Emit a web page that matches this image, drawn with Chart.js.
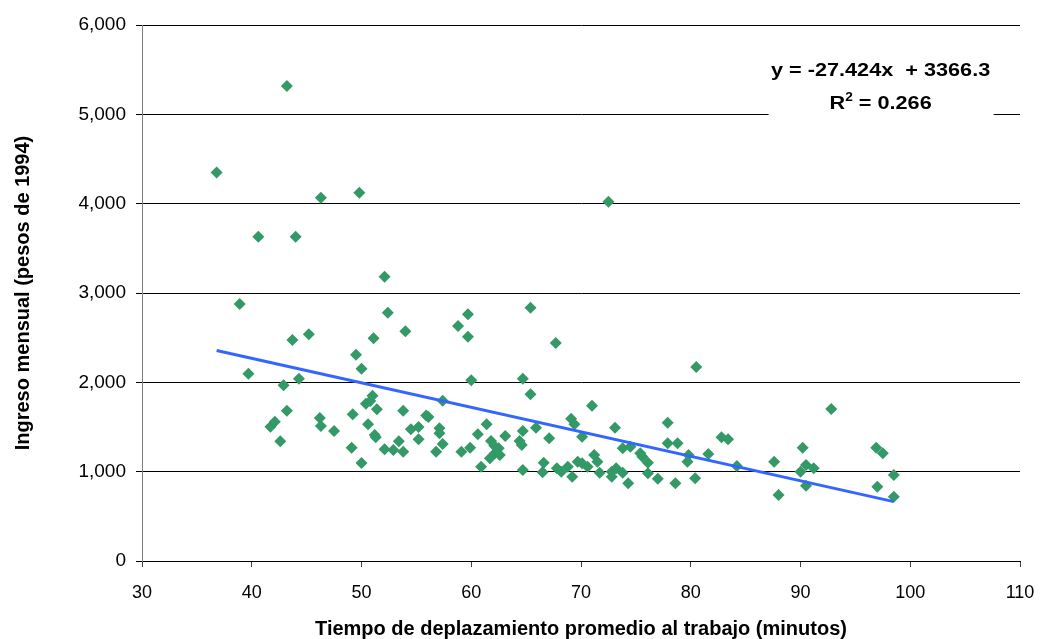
<!DOCTYPE html>
<html>
<head>
<meta charset="utf-8">
<script src="https://cdn.jsdelivr.net/npm/chart.js@4/dist/chart.umd.min.js"></script>
<style>
  html, body { margin: 0; padding: 0; background: #ffffff; }
  canvas { display: block; }
</style>
</head>
<body>
<canvas id="chart" width="1040" height="639"></canvas>
<script>
// Average commute time (minutes) per zone
const commuteMinutes = [
  36.8, 38.9, 39.7, 40.6, 41.7, 42.1, 42.6, 42.9, 43.2, 43.2,
  43.7, 44.0, 44.3, 45.2, 46.2, 46.3, 46.3, 47.5, 49.1, 49.2,
  49.5, 49.8, 50.0, 50.0, 50.4, 50.6, 50.8, 51.0, 51.1, 51.2,
  51.3, 51.4, 52.1, 52.1, 52.4, 52.9, 53.4, 53.8, 53.8, 54.0,
  54.5, 55.2, 55.2, 55.9, 56.1, 56.8, 57.1, 57.1, 57.4, 57.4,
  58.8, 59.1, 59.7, 59.7, 59.9, 60.0, 60.6, 60.9, 61.4, 61.7,
  61.8, 62.1, 62.2, 62.5, 62.6, 63.1, 64.4, 64.6, 64.7, 64.7,
  64.7, 65.4, 65.4, 65.9, 66.5, 66.6, 67.1, 67.7, 67.8, 68.2,
  68.8, 69.1, 69.2, 69.4, 69.7, 70.1, 70.1, 70.6, 71.0, 71.2,
  71.5, 71.7, 72.5, 72.8, 72.8, 73.1, 73.2, 73.8, 73.8, 74.3,
  74.5, 75.4, 75.6, 76.1, 76.1, 77.0, 77.9, 77.9, 78.6, 78.8,
  79.7, 79.8, 80.4, 80.5, 81.6, 82.8, 83.4, 84.2, 87.6, 88.0,
  90.0, 90.2, 90.5, 90.5, 91.2, 92.8, 96.9, 97.0, 97.5, 98.5,
  98.5
];

// Monthly income (1994 pesos) for the same zones
const monthlyIncome = [
  4350, 2877, 2097, 3630, 1504, 1560, 1340, 1967, 5317, 1683,
  2474, 3630, 2041, 2537, 1600, 1510, 4067, 1455, 1268, 1642,
  2310, 4123, 2153, 1097, 1760, 1530, 1790, 1850, 2493, 1410,
  1385, 1700, 1250, 3183, 2780, 1243, 1340, 1224, 1683, 2571,
  1474, 1500, 1362, 1630, 1612, 1224, 1485, 1429, 1310, 1794,
  2631, 1224, 2761, 2511, 1268, 2023, 1418, 1056, 1530, 1150,
  1343, 1290, 1212, 1261, 1187, 1399, 1343, 1298, 2041, 1455,
  1019, 2836, 1866, 1492, 993, 1100, 1373, 2440, 1038, 1000,
  1056, 1593, 944, 1530, 1112, 1392, 1094, 1056, 1739, 1187,
  1112, 988, 4022, 1000, 944, 1492, 1038, 1261, 988, 870,
  1280, 1206, 1168, 1100, 982, 921, 1548, 1317, 870, 1317,
  1112, 1187, 926, 2172, 1198, 1385, 1362, 1063, 1112, 739,
  1000, 1268, 1075, 843, 1038, 1701, 1268, 832, 1206, 963,
  720
];

// Linear trend reported on the chart
const trendSlope = -27.424;
const trendIntercept = 3366.3;
const trendR2 = 0.266;

// Axis ranges and tick steps
const xTicks = [30, 40, 50, 60, 70, 80, 90, 100, 110];
const yTicks = [0, 1000, 2000, 3000, 4000, 5000, 6000];

const xAxisTitle = 'Tiempo de deplazamiento promedio al trabajo (minutos)';
const yAxisTitle = 'Ingreso mensual (pesos de 1994)';

const FONT = "'Liberation Sans', Arial, Helvetica, sans-serif";

const scatterPoints = commuteMinutes.map((x, i) => ({ x: x, y: monthlyIncome[i] }));
const xMin = Math.min(...commuteMinutes);
const xMax = Math.max(...commuteMinutes);
const trendPoints = [
  { x: xMin, y: trendSlope * xMin + trendIntercept },
  { x: xMax, y: trendSlope * xMax + trendIntercept }
];

// Equation box in the upper right corner of the plot
const equationPlugin = {
  id: 'equationBox',
  afterDraw(chart) {
    const ctx = chart.ctx;
    const xs = chart.scales.x;
    const ys = chart.scales.y;
    const cx = xs.getPixelForValue(97.3);
    ctx.save();
    ctx.fillStyle = '#ffffff';
    ctx.fillRect(cx - 112, ys.getPixelForValue(5700), 225, ys.getPixelForValue(4930) - ys.getPixelForValue(5700));
    ctx.fillStyle = '#000000';
    ctx.textBaseline = 'alphabetic';

    const stretch = 1.14;
    const line1 = 'y = ' + trendSlope.toFixed(3) + 'x  + ' + trendIntercept.toFixed(1);
    ctx.font = 'bold 19px ' + FONT;
    const w1 = ctx.measureText(line1).width * stretch;
    ctx.save();
    ctx.translate(cx - w1 / 2, 76);
    ctx.scale(stretch, 1);
    ctx.fillText(line1, 0, 0);
    ctx.restore();

    const partA = 'R';
    const partSup = '2';
    const partB = ' = ' + trendR2.toFixed(3);
    ctx.font = 'bold 19px ' + FONT;
    const wA = ctx.measureText(partA).width * stretch;
    const wB = ctx.measureText(partB).width * stretch;
    ctx.font = 'bold 12px ' + FONT;
    const wS = ctx.measureText(partSup).width * stretch;
    const total = wA + wS + wB;
    let px = cx - total / 2;
    const base2 = 109;
    ctx.save();
    ctx.translate(px, base2);
    ctx.scale(stretch, 1);
    ctx.font = 'bold 19px ' + FONT;
    ctx.fillText(partA, 0, 0);
    ctx.restore();
    px += wA;
    ctx.save();
    ctx.translate(px, base2 - 8);
    ctx.scale(stretch, 1);
    ctx.font = 'bold 12px ' + FONT;
    ctx.fillText(partSup, 0, 0);
    ctx.restore();
    px += wS;
    ctx.save();
    ctx.translate(px, base2);
    ctx.scale(stretch, 1);
    ctx.font = 'bold 19px ' + FONT;
    ctx.fillText(partB, 0, 0);
    ctx.restore();
    ctx.restore();
  }
};

new Chart(document.getElementById('chart'), {
  type: 'scatter',
  data: {
    datasets: [
      {
        label: 'Zonas',
        data: scatterPoints,
        pointStyle: 'rectRot',
        pointRadius: 6,
        pointHoverRadius: 6,
        pointBackgroundColor: '#339966',
        pointBorderColor: '#339966',
        pointBorderWidth: 0,
        order: 2
      },
      {
        label: 'Tendencia',
        data: trendPoints,
        showLine: true,
        borderColor: '#3366ff',
        borderWidth: 3,
        pointRadius: 0,
        pointHoverRadius: 0,
        fill: false,
        order: 1
      }
    ]
  },
  options: {
    responsive: false,
    animation: false,
    devicePixelRatio: 1,
    layout: { padding: { top: 25, right: 20, left: 0, bottom: 0 } },
    plugins: {
      legend: { display: false },
      tooltip: { enabled: false }
    },
    scales: {
      x: {
        type: 'linear',
        min: xTicks[0],
        max: xTicks[xTicks.length - 1],
        afterBuildTicks(scale) { scale.ticks = xTicks.map(v => ({ value: v })); },
        afterFit(scale) {
          scale.height = 78;
          scale.paddingLeft = 0;
          scale.paddingRight = 0;
        },
        ticks: {
          font: { family: FONT, size: 18 },
          color: '#000000',
          padding: 15
        },
        grid: {
          drawOnChartArea: false,
          drawTicks: true,
          tickLength: 6,
          color: '#404040'
        },
        border: { display: true, color: '#000000', width: 1 },
        title: {
          display: true,
          text: xAxisTitle,
          color: '#000000',
          font: { family: FONT, size: 20, weight: 'bold', lineHeight: 1 },
          padding: { top: 0, bottom: 0 }
        }
      },
      y: {
        type: 'linear',
        min: yTicks[0],
        max: yTicks[yTicks.length - 1],
        afterBuildTicks(scale) { scale.ticks = yTicks.map(v => ({ value: v })); },
        afterFit(scale) {
          scale.width = 142;
          scale.paddingTop = 0;
          scale.paddingBottom = 0;
        },
        ticks: {
          font: { family: FONT, size: 19 },
          color: '#000000',
          padding: 10,
          callback: v => v.toLocaleString('en-US')
        },
        grid: {
          drawOnChartArea: true,
          drawTicks: true,
          tickLength: 6,
          color: '#000000'
        },
        border: { display: true, color: '#808080', width: 1 },
        title: {
          display: true,
          text: yAxisTitle,
          color: '#000000',
          font: { family: FONT, size: 20, weight: 'bold', lineHeight: 1 },
          padding: { top: 13, bottom: 0 }
        }
      }
    }
  },
  plugins: [equationPlugin]
});
</script>
</body>
</html>
